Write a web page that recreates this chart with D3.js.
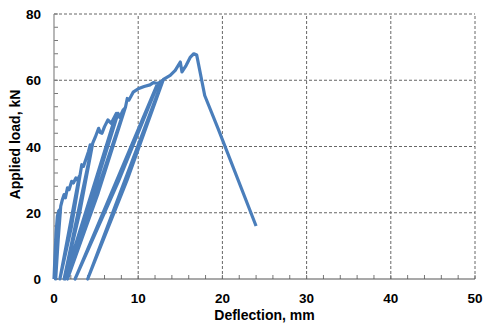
<!DOCTYPE html>
<html>
<head>
<meta charset="utf-8">
<script src="https://cdn.jsdelivr.net/npm/d3@7"></script>
<style>
  body { margin: 0; background: #fff; }
  text { font-family: "Liberation Sans", Arial, sans-serif; font-weight: bold; fill: #000; }
</style>
</head>
<body>
<div id="chart"></div>
<script>
// Deflection (mm) and applied load (kN)
// loading envelope with unload / reload cycles
var deflection = [0, 0.1, 0.25, 0.4, 0.55, 0.7, 0.2, 0.5, 0.8,
  1.0, 1.2, 1.35, 1.6, 1.8, 2.1, 2.3, 2.6, 2.8, 3.0, 0.7, 2.05, 3.1,
  3.3, 3.5, 3.9, 4.1, 4.3, 4.5, 1.2, 3.05, 4.6,
  4.9, 5.3, 5.5, 5.7, 6.0, 6.4, 6.8, 7.4, 1.3, 4.55, 7.6,
  7.8, 8.2, 8.4, 1.6, 5.25, 8.5,
  8.7, 8.9, 9.4, 10.0, 10.7, 11.4, 11.8, 12.3, 2.5, 7.65, 12.4,
  12.7, 12.9, 4.0, 8.7, 13.0,
  13.8, 14.4, 15.0, 15.2, 15.7, 16.2, 16.6, 16.95,
  17.9, 19.5, 24.0];
var load = [0, 6, 14, 19, 20.5, 21, 0, 12, 22,
  24, 25.5, 24.5, 27.5, 27, 29.5, 29, 30.5, 29.8, 31, 0, 15.5, 31.5,
  34.5, 34, 37, 38.5, 40.5, 40, 0, 20, 41,
  42.8, 45.5, 44.2, 44, 46, 48, 47, 50, 0, 25, 50,
  48.8, 51, 51.5, 0, 26, 52,
  54.5, 54, 56.4, 57.4, 58.1, 58.6, 59.3, 59, 0, 29.5, 59.2,
  59.5, 60, 0, 30, 60.3,
  61.5, 63, 65.5, 62.5, 64.5, 67, 68, 67.6,
  55.4, 45.3, 16];

var xTicks = [0, 10, 20, 30, 40, 50];
var yTicks = [0, 20, 40, 60, 80];
var xMinor = d3.range(0, 51, 2);
var yMinor = d3.range(0, 81, 4);

var width = 487, height = 328;
var margin = {left: 54, right: 12, top: 14, bottom: 49};

var x = d3.scaleLinear().domain([0, 50]).range([margin.left, width - margin.right]);
var y = d3.scaleLinear().domain([0, 80]).range([height - margin.bottom, margin.top]);

var svg = d3.select("#chart").append("svg")
  .attr("width", width)
  .attr("height", height);

// dashed grid
svg.append("g").selectAll("line")
  .data(xTicks.slice(1))
  .enter().append("line")
  .attr("x1", function(d) { return x(d); })
  .attr("x2", function(d) { return x(d); })
  .attr("y1", y(0)).attr("y2", y(80))
  .style("stroke", "#666").style("stroke-width", 1).style("stroke-dasharray", "3,2");

svg.append("g").selectAll("line")
  .data(yTicks.slice(1))
  .enter().append("line")
  .attr("x1", x(0)).attr("x2", x(50))
  .attr("y1", function(d) { return y(d); })
  .attr("y2", function(d) { return y(d); })
  .style("stroke", "#666").style("stroke-width", 1).style("stroke-dasharray", "3,2");

// minor ticks pointing inward
svg.append("g").selectAll("line")
  .data(xMinor)
  .enter().append("line")
  .attr("x1", function(d) { return x(d); })
  .attr("x2", function(d) { return x(d); })
  .attr("y1", y(0)).attr("y2", y(0) - 4)
  .style("stroke", "#777").style("stroke-width", 1);

svg.append("g").selectAll("line")
  .data(yMinor)
  .enter().append("line")
  .attr("x1", x(0)).attr("x2", x(0) + 4)
  .attr("y1", function(d) { return y(d); })
  .attr("y2", function(d) { return y(d); })
  .style("stroke", "#777").style("stroke-width", 1);

// axis lines
svg.append("line")
  .attr("x1", x(0)).attr("x2", x(50)).attr("y1", y(0)).attr("y2", y(0))
  .style("stroke", "#555").style("stroke-width", 1.2);
svg.append("line")
  .attr("x1", x(0)).attr("x2", x(0)).attr("y1", y(0)).attr("y2", y(80))
  .style("stroke", "#888").style("stroke-width", 1.2);

// tick labels
svg.append("g").selectAll("text")
  .data(xTicks)
  .enter().append("text")
  .attr("x", function(d) { return x(d); })
  .attr("y", y(0) + 24)
  .attr("text-anchor", "middle")
  .style("font-size", "13.5px")
  .text(function(d) { return d; });

svg.append("g").selectAll("text")
  .data(yTicks)
  .enter().append("text")
  .attr("x", x(0) - 13)
  .attr("y", function(d) { return y(d) + 5; })
  .attr("text-anchor", "end")
  .style("font-size", "13.5px")
  .text(function(d) { return d; });

// axis titles
svg.append("text")
  .attr("x", (x(0) + x(50)) / 2)
  .attr("y", y(0) + 41)
  .attr("text-anchor", "middle")
  .style("font-size", "14px")
  .text("Deflection, mm");

svg.append("text")
  .attr("transform", "translate(20," + ((y(0) + y(80)) / 2 - 2) + ") rotate(-90)")
  .attr("text-anchor", "middle")
  .style("font-size", "14px")
  .text("Applied load, kN");

// the load-deflection curve
var points = deflection.map(function(d, i) { return [d, load[i]]; });
var line = d3.line()
  .x(function(d) { return x(d[0]); })
  .y(function(d) { return y(d[1]); });

svg.append("path")
  .datum(points)
  .attr("d", line)
  .style("fill", "none")
  .style("stroke", "#4A7EBB")
  .style("stroke-width", 3.2)
  .style("stroke-linejoin", "round");
</script>
</body>
</html>
